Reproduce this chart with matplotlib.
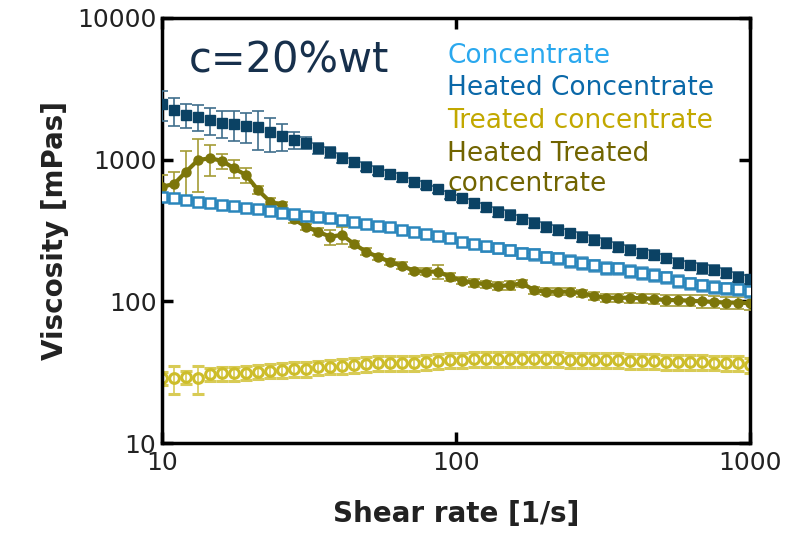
import numpy as np
import matplotlib
matplotlib.use("Agg")
import matplotlib.pyplot as plt

# shear rate sweep [1/s]
shear_rate = [10.00, 10.98, 12.07, 13.26, 14.56, 16.00, 17.58, 19.31, 21.21, 23.30,
              25.60, 28.12, 30.89, 33.93, 37.28, 40.95, 44.98, 49.42, 54.29, 59.64,
              65.51, 71.97, 79.06, 86.85, 95.41, 104.8, 115.1, 126.5, 138.9, 152.6,
              167.7, 184.2, 202.3, 222.3, 244.2, 268.3, 294.7, 323.7, 355.6, 390.7,
              429.2, 471.5, 517.9, 569.0, 625.1, 686.6, 754.3, 828.6, 910.3, 1000.0]

# viscosity [mPas]
concentrate = [547, 533, 520, 506, 493, 481, 468, 456, 445, 433,
               422, 411, 401, 395, 385, 375, 365, 351, 340, 333,
               319, 307, 297, 289, 278, 263, 254, 246, 237, 230,
               220, 216, 206, 201, 193, 187, 180, 173, 171, 164,
               159, 153, 148, 140, 134, 130, 127, 124, 122, 119]
concentrate_err = [15, 15, 15, 15, 15, 14, 14, 14, 14, 13,
                   14, 14, 15, 15, 16, 16, 17, 17, 18, 18,
                   17, 17, 17, 17, 17, 18, 18, 18, 19, 19,
                   19, 19, 18, 18, 18, 18, 17, 16, 16, 15,
                   15, 15, 14, 13, 12, 12, 12, 11, 11, 11]

heated_conc = [2467, 2239, 2065, 2009, 1903, 1821, 1774, 1726, 1690, 1559,
               1469, 1375, 1310, 1202, 1127, 1031, 957, 891, 835, 788,
               750, 699, 662, 617, 563, 533, 492, 461, 429, 406,
               379, 359, 333, 318, 302, 286, 271, 257, 243, 230,
               218, 212, 201, 187, 180, 171, 166, 158, 148, 143]
heated_conc_err = [600, 500, 400, 420, 400, 400, 430, 420, 520, 420,
                   320, 180, 130, 110, 100, 90, 70, 65, 60, 55,
                   50, 45, 40, 38, 35, 32, 38, 36, 34, 32,
                   30, 29, 27, 26, 24, 23, 22, 21, 20, 18,
                   17, 17, 16, 15, 14, 14, 13, 13, 12, 11]

treated = [28.6, 28.6, 29.1, 28.6, 30.7, 31.0, 31.0, 31.3, 31.9, 32.4,
           32.7, 33.1, 33.3, 34.2, 34.6, 34.9, 35.5, 35.9, 36.5, 36.5,
           36.9, 36.9, 37.5, 38.1, 38.5, 38.5, 39.0, 39.0, 39.0, 39.0,
           39.0, 39.0, 39.0, 39.0, 38.5, 38.5, 38.5, 38.5, 38.5, 38.1,
           38.1, 38.1, 37.5, 37.5, 37.5, 37.5, 36.9, 36.5, 36.5, 35.5]
treated_err = [3.0, 6.5, 3.2, 6.5, 3.4, 3.5, 3.5, 3.6, 3.7, 3.8,
               3.8, 3.9, 4.0, 4.0, 4.1, 4.2, 4.3, 4.3, 4.4, 4.4,
               4.5, 4.5, 4.6, 4.6, 4.7, 4.7, 4.8, 4.8, 4.8, 4.8,
               4.8, 4.8, 4.8, 4.8, 4.7, 4.7, 4.7, 4.7, 4.7, 4.6,
               4.6, 4.6, 4.5, 4.5, 4.5, 4.5, 4.4, 4.4, 4.4, 4.3]

heated_treated = [644, 672, 821, 994, 1021, 982, 868, 778, 610, 505,
                  478, 379, 336, 310, 286, 294, 254, 224, 206, 190,
                  178, 164, 162, 162, 149, 140, 135, 132, 128, 130,
                  134, 120, 117, 117, 117, 114, 109, 106, 106, 106,
                  105, 104, 102, 102, 101, 100, 99, 98, 98, 97]
heated_treated_err = [140, 150, 330, 400, 250, 120, 130, 90, 40, 30,
                      25, 20, 18, 17, 35, 40, 14, 12, 11, 10,
                      10, 9, 9, 18, 9, 8, 8, 8, 8, 9,
                      8, 7, 7, 7, 7, 7, 7, 7, 7, 8,
                      8, 8, 9, 9, 9, 10, 10, 10, 10, 10]

labels = ["Concentrate", "Heated Concentrate", "Treated concentrate",
          "Heated Treated\nconcentrate"]
label_colors = ["#2aa8ee", "#0a68a8", "#c2a800", "#716400"]

fig = plt.figure(figsize=(8.1, 5.34), dpi=100)
ax = fig.add_axes([0.2, 0.1704, 0.726, 0.796])

ax.errorbar(shear_rate, treated, yerr=treated_err, fmt='o', ms=7,
            mfc='none', mec='#cdbd2a', mew=2.2, ecolor='#d8cb55', elinewidth=1.2,
            capsize=4, capthick=1.2, zorder=2)
ax.errorbar(shear_rate, heated_treated, yerr=heated_treated_err, fmt='o-', ms=6.5,
            color='#7c760a', lw=3, ecolor='#a49c35', elinewidth=1.2,
            capsize=4, capthick=1.2, zorder=3)
ax.errorbar(shear_rate, concentrate, yerr=concentrate_err, fmt='s-', ms=7,
            mfc='white', mec='#2a86bc', mew=1.8, color='#2a86bc', lw=1,
            ecolor='#5b9cc4', elinewidth=1.2, capsize=4, capthick=1.2, zorder=4)
ax.errorbar(shear_rate, heated_conc, yerr=heated_conc_err, fmt='s', ms=7,
            color='#0b4264', ecolor='#3f6e8c', elinewidth=1.2,
            capsize=4, capthick=1.2, zorder=5)

ax.set_xscale('log')
ax.set_yscale('log')
ax.set_xlim(10, 1000)
ax.set_ylim(10, 10000)
ax.set_xticks([10, 100, 1000])
ax.set_xticklabels(["10", "100", "1000"])
ax.set_yticks([10, 100, 1000, 10000])
ax.set_yticklabels(["10", "100", "1000", "10000"])
ax.minorticks_off()
ax.tick_params(which='major', direction='in', length=8, width=2.5,
               top=True, right=True, labelsize=18, labelcolor='#222222', pad=4)
ax.tick_params(axis='x', pad=6)
for s in ax.spines.values():
    s.set_linewidth(2.5)

ax.set_xlabel("Shear rate [1/s]", fontsize=20, fontweight='bold', labelpad=18,
              color='#222222')
ax.set_ylabel("Viscosity [mPas]", fontsize=20, fontweight='bold', labelpad=6,
              color='#222222')

ax.text(0.045, 0.9, "c=20%wt", transform=ax.transAxes, fontsize=30,
        color='#17304c', va='center', ha='left')

y0 = 0.942
for i, (lab, col) in enumerate(zip(labels, label_colors)):
    ax.text(0.485, y0 - i * 0.077, lab, transform=ax.transAxes, fontsize=19,
            color=col, va='top', ha='left', linespacing=1.2)

fig.savefig("out.png", dpi=100)
